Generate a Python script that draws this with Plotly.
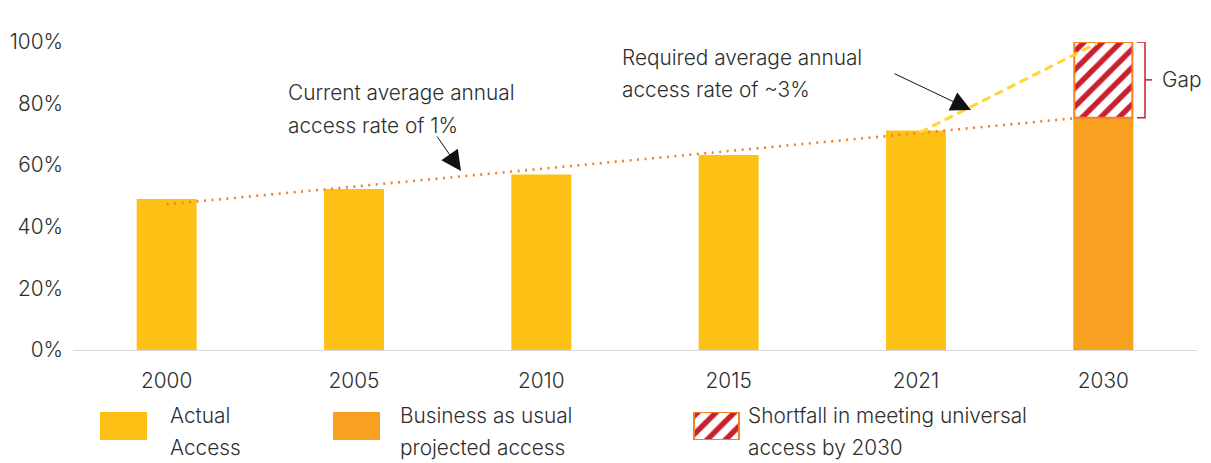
import plotly.graph_objects as go

# ---- data ----
years = ["2000", "2005", "2010", "2015", "2021", "2030"]
actual_access = [49, 52.3, 57, 63.3, 71.3]          # 2000..2021
bau_2030 = 75.4                                     # business as usual projection
target_2030 = 100                                   # universal access
trend_x = [0, 4.84]                                 # current-rate trend (category index)
trend_y = [47.3, 75.2]
required_x = [4.02, 4.97]                           # required-rate path
required_y = [70.6, 99.7]
y_ticks = [0, 20, 40, 60, 80, 100]
y_tick_labels = ["0%", "20%", "40%", "60%", "80%", "100%"]

# ---- styling ----
YELLOW = "#FDC116"
ORANGE = "#F8A020"
HATCH_RED = "#C8202E"
HATCH_EDGE = "#F28028"
TREND = "#F08030"
REQ = "#FFD52E"
TXT = "#2E2E2E"
FONT = "Inter"

W, H = 1211, 463
L, R, T, B = 73, 14, 42, 0
plot_h = H - T - B
main_bottom = 113 / plot_h

HATCH = dict(shape="/", fgcolor=HATCH_RED, bgcolor="white", size=13, solidity=0.42,
             fillmode="replace", fgopacity=1)

fig = go.Figure()

# actual access bars
fig.add_trace(go.Bar(x=list(range(len(actual_access))), y=actual_access,
                     width=0.32, marker=dict(color=YELLOW, line=dict(width=0)),
                     showlegend=False, hoverinfo="y"))
# BAU 2030
fig.add_trace(go.Bar(x=[5], y=[bau_2030], width=0.32,
                     marker=dict(color=ORANGE, line=dict(width=0)),
                     showlegend=False))
# shortfall hatched
fig.add_trace(go.Bar(x=[5], y=[target_2030 - bau_2030], base=[bau_2030], width=0.31,
                     marker=dict(color="white", pattern=HATCH,
                                 line=dict(color=HATCH_EDGE, width=2)),
                     showlegend=False))
# trend line (dotted)
fig.add_trace(go.Scatter(x=trend_x, y=trend_y, mode="lines",
                         line=dict(color=TREND, width=2.6, dash="2px,5.5px"),
                         showlegend=False, hoverinfo="skip"))
# required path (dashed)
fig.add_trace(go.Scatter(x=required_x, y=required_y, mode="lines",
                         line=dict(color=REQ, width=3, dash="9px,5px"),
                         showlegend=False, hoverinfo="skip"))

# legend swatches on a separate small axis
leg_x = [50.5, 283.5, 643.5]
fig.add_trace(go.Bar(x=[leg_x[0]], y=[1], width=47, marker=dict(color=YELLOW, line=dict(width=0)),
                     xaxis="x2", yaxis="y2", showlegend=False, hoverinfo="skip"))
fig.add_trace(go.Bar(x=[leg_x[1]], y=[1], width=47, marker=dict(color=ORANGE, line=dict(width=0)),
                     xaxis="x2", yaxis="y2", showlegend=False, hoverinfo="skip"))
fig.add_trace(go.Bar(x=[leg_x[2]], y=[1], width=45,
                     marker=dict(color="white", pattern=HATCH,
                                 line=dict(color=HATCH_EDGE, width=2)),
                     xaxis="x2", yaxis="y2", showlegend=False, hoverinfo="skip"))


def px_to_x(px):
    return (px - L) / (1124 / 6) - 0.5


def py_to_y(py):
    return (350 - py) / 3.08


def px_paper(px):
    return (px - L) / (W - L - R)


def py_paper(py):
    return (H - py) / plot_h


font = dict(family=FONT, size=20.8, color=TXT, weight=300)
ann = []
# callouts
for txt, py in [("Current average annual", 92), ("access rate of 1%", 125)]:
    ann.append(dict(x=px_to_x(286), y=py_to_y(py), text=txt, showarrow=False,
                    xanchor="left", yanchor="middle", font=font))
for txt, py in [("Required average annual", 57), ("access rate of ~3%", 89)]:
    ann.append(dict(x=px_to_x(620), y=py_to_y(py), text=txt, showarrow=False,
                    xanchor="left", yanchor="middle", font=font))
ann.append(dict(x=5, y=py_to_y(18), text="100% access rate", showarrow=False,
                xanchor="center", yanchor="middle", font=font))
ann.append(dict(x=px_to_x(1160), y=(target_2030 + bau_2030) / 2, text="Gap", showarrow=False,
                xanchor="left", yanchor="middle", font=font))
# arrows
ann.append(dict(x=px_to_x(461), y=py_to_y(171), ax=-25, ay=-36, axref="pixel", ayref="pixel",
                text="", showarrow=True, arrowhead=2, arrowsize=4, arrowwidth=1,
                arrowcolor="#111111"))
ann.append(dict(x=px_to_x(971), y=py_to_y(110), ax=-78, ay=-37, axref="pixel", ayref="pixel",
                text="", showarrow=True, arrowhead=2, arrowsize=4, arrowwidth=1,
                arrowcolor="#111111"))
# legend text
for txt, px, py in [("Actual", 168, 415), ("Access", 168, 447),
                    ("Business as usual", 398, 415), ("projected access", 398, 447),
                    ("Shortfall in meeting universal", 746, 415), ("access by 2030", 746, 447)]:
    ann.append(dict(xref="paper", yref="paper", x=px_paper(px), y=py_paper(py), text=txt,
                    showarrow=False, xanchor="left", yanchor="middle", font=font))

# gap bracket
bx, bl, bt = px_to_x(1145), px_to_x(1137), px_to_x(1152)
shapes = [
    dict(type="path", xref="x", yref="y",
         path=f"M{bl},{target_2030} L{bx},{target_2030} L{bx},{bau_2030} L{bl},{bau_2030}",
         line=dict(color=HATCH_RED, width=1.5)),
    dict(type="line", xref="x", yref="y", x0=bx, x1=bt,
         y0=(target_2030 + bau_2030) / 2, y1=(target_2030 + bau_2030) / 2,
         line=dict(color=HATCH_RED, width=1.5)),
]

fig.update_layout(
    width=W, height=H,
    margin=dict(l=L, r=R, t=T, b=B),
    paper_bgcolor="white", plot_bgcolor="white",
    barmode="overlay",
    font=font,
    xaxis=dict(domain=[0, 1], range=[-0.5, 5.5], tickmode="array",
               tickvals=list(range(6)), ticktext=years, showgrid=False, zeroline=False,
               showline=True, linecolor="#D9D9D9", linewidth=1, ticks="",
               tickfont=font, anchor="y", ticklabelstandoff=12, automargin=False),
    yaxis=dict(domain=[main_bottom, 1], range=[0, 100], tickmode="array",
               tickvals=y_ticks, ticktext=y_tick_labels, showgrid=False, zeroline=False,
               showline=False, ticks="", tickfont=font, ticklabelstandoff=9,
               automargin=False),
    xaxis2=dict(domain=[0, 1], range=[0, W - L - R], visible=False, anchor="y2"),
    yaxis2=dict(domain=[py_paper(440), py_paper(412)], range=[0, 1], visible=False,
                anchor="x2"),
    annotations=ann,
    shapes=shapes,
)

fig.write_html("out.html", config={"displayModeBar": False},
               post_script="document.body.style.margin='0';document.body.style.padding='0';")
